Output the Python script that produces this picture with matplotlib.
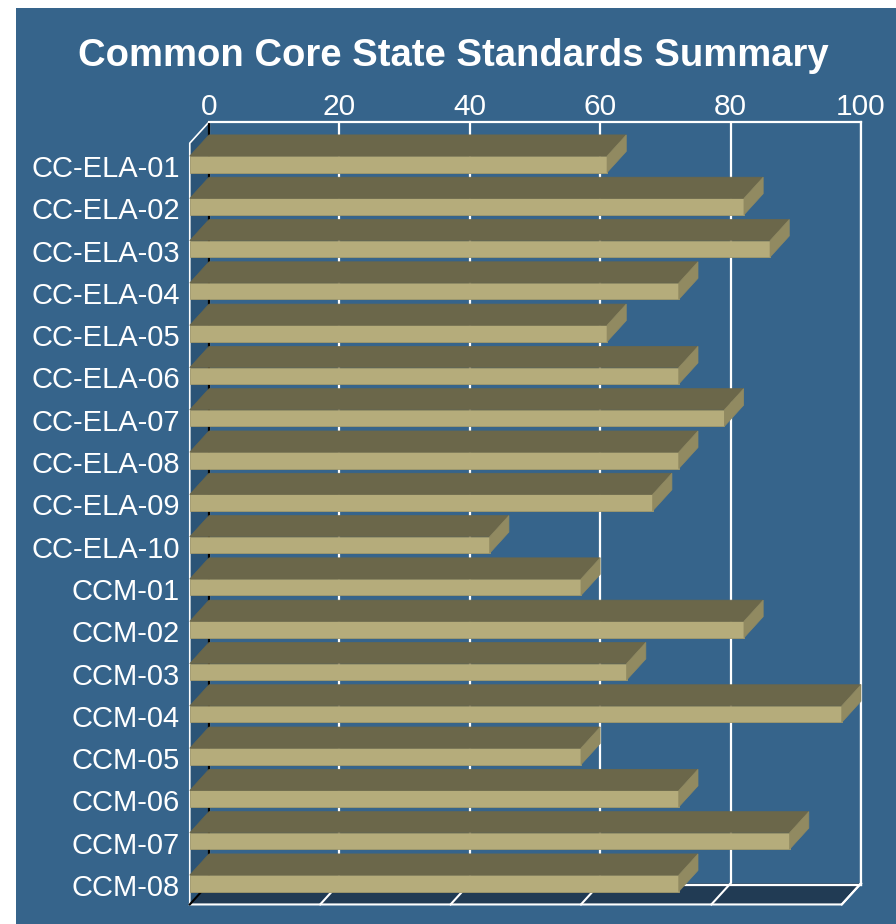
import numpy as np
import matplotlib
matplotlib.use("Agg")
import matplotlib.pyplot as plt
from matplotlib.patches import Polygon, Rectangle

plt.rcParams['font.family'] = ['Liberation Sans', 'DejaVu Sans']

# data
labels = ["CC-ELA-01", "CC-ELA-02", "CC-ELA-03", "CC-ELA-04", "CC-ELA-05",
          "CC-ELA-06", "CC-ELA-07", "CC-ELA-08", "CC-ELA-09", "CC-ELA-10",
          "CCM-01", "CCM-02", "CCM-03", "CCM-04", "CCM-05", "CCM-06",
          "CCM-07", "CCM-08"]
scores = [64, 85, 89, 75, 64, 75, 82, 75, 71, 46,
          60, 85, 67, 100, 60, 75, 92, 75]
ticks = [0, 20, 40, 60, 80, 100]

BG = "#36648b"
TOP = "#6b674a"
FRONT = "#b5ac7b"
SIDE = "#918a61"
FLOOR = "#213b54"
WALL = "#2b5477"

# depth of the fake 3d box, in data units (x) and rows (y)
DX = 2.95
DY = 0.5
H = 0.39

W, Hpx = 896, 924
fig = plt.figure(figsize=(W / 100, Hpx / 100), dpi=100, facecolor="white")
fig.patches.append(Rectangle((16 / W, 0), 1 - 16 / W, 1 - 8 / Hpx,
                             transform=fig.transFigure, facecolor=BG,
                             edgecolor="none", zorder=-10))

ax = fig.add_axes([209 / W, (Hpx - 885) / Hpx, (861 - 209) / W, (885 - 122) / Hpx])
ax.set_facecolor("none")

n = len(labels)
xmax = ticks[-1]
ax.set_xlim(0, xmax)
ax.set_ylim(n, 0)

# left wall and floor
ax.add_patch(Polygon([(0, 0), (0, n), (-DX, n + DY), (-DX, DY)], closed=True,
                     facecolor=WALL, edgecolor="none", clip_on=False, zorder=1))
ax.plot([-DX, -DX, 0], [n + DY, DY, 0], color="white", lw=1.2, clip_on=False, zorder=1.5)
ax.add_patch(Polygon([(0, n), (xmax, n), (xmax - DX, n + DY), (-DX, n + DY)], closed=True,
                     facecolor=FLOOR, edgecolor="none", clip_on=False, zorder=1))
ax.plot([-DX, xmax - DX, xmax], [n + DY, n + DY, n], color="white", lw=1.5,
        clip_on=False, zorder=1.5)
for t in ticks:
    ax.plot([t, t - DX], [n, n + DY], color="black" if t == 0 else "white",
            lw=1.5, clip_on=False, zorder=1.6)

ax.grid(axis="x", color="white", lw=1.6)
ax.grid(axis="y", visible=False)
ax.set_axisbelow(True)
for side in ["top", "right", "bottom"]:
    ax.spines[side].set_color("white")
    ax.spines[side].set_linewidth(1.6)
ax.spines["left"].set_color("black")
ax.spines["left"].set_linewidth(1.6)

# bars: front face + top face + right end face
for i, v in enumerate(scores):
    c = i + 0.5
    y0, y1 = c - H / 2, c + H / 2
    ax.barh(c + DY, v, left=-DX, height=H, color=FRONT, edgecolor="#a39a6c",
            lw=0.6, clip_on=False, zorder=3)
    ax.add_patch(Polygon([(0, y0), (v, y0), (v - DX, y0 + DY), (-DX, y0 + DY)],
                         closed=True, facecolor=TOP, edgecolor=TOP, lw=0.5,
                         clip_on=False, zorder=3))
    ax.add_patch(Polygon([(v, y0), (v, y1), (v - DX, y1 + DY), (v - DX, y0 + DY)],
                         closed=True, facecolor=SIDE, edgecolor=SIDE, lw=0.5,
                         clip_on=False, zorder=3))

ax.xaxis.tick_top()
ax.set_xticks(ticks)
ax.set_xticklabels([str(t) for t in ticks])
ax.tick_params(axis="x", length=0, pad=0.5, labelsize=21.5, labelcolor="white")
ax.set_yticks([i + 0.5 + DY + 0.04 for i in range(n)])
ax.set_yticklabels(labels)
ax.tick_params(axis="y", length=0, pad=21, labelsize=21, labelcolor="white")

fig.text(453 / W, 1 - 56 / Hpx, "Common Core State Standards Summary",
         ha="center", va="center", color="white", fontsize=27.5, fontweight="bold")

fig.savefig("out.png", dpi=100, facecolor=fig.get_facecolor())
